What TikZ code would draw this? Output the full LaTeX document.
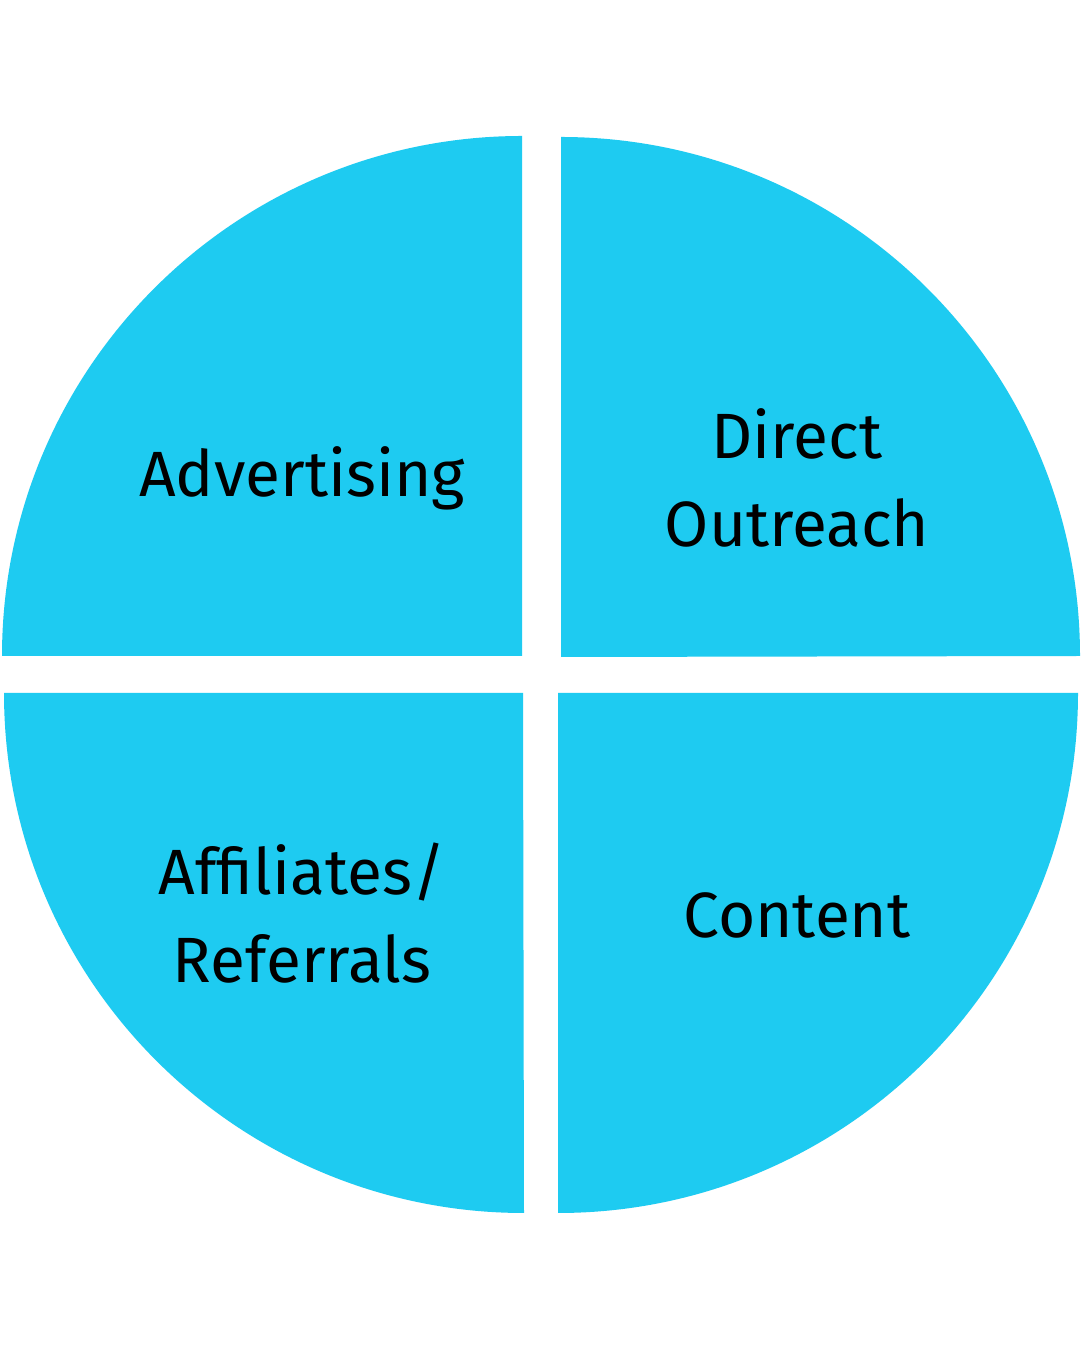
\documentclass[tikz,border=0pt]{standalone}
\usepackage{fontspec}
\setmainfont{Fira Sans}
\definecolor{quartblue}{HTML}{1ECBF1}
\tikzset{
 quarter/.style={fill=quartblue,draw=none},
 lbl/.style={align=center,font=\fontsize{64}{88}\selectfont,text=black}
}
\begin{document}
\begin{tikzpicture}[x=1pt,y=1pt]
 \useasboundingbox[fill=white] (0,0) rectangle (1080,1350);
 \fill[quarter] (522,694) -- ++(-520,0) arc[start angle=180,end angle=90,radius=520] -- cycle;
 \fill[quarter] (561,693) -- ++(0,520) arc[start angle=90,end angle=0,radius=519] -- cycle;
 \fill[quarter] (523,657) -- ++(-519,0) arc[start angle=180,end angle=270,radius=520] -- cycle;
 \fill[quarter] (558,657) -- ++(0,-520) arc[start angle=270,end angle=360,radius=520] -- cycle;
 \node (adv) at (302,872) [lbl] {Advertising};
 \node (dir) at (797,872) [lbl] {Direct\\Outreach};
 \node (aff) at (302,437) [lbl] {Affiliates/\\Referrals};
 \node (cnt) at (797,435) [lbl] {Content};
\end{tikzpicture}
\end{document}
